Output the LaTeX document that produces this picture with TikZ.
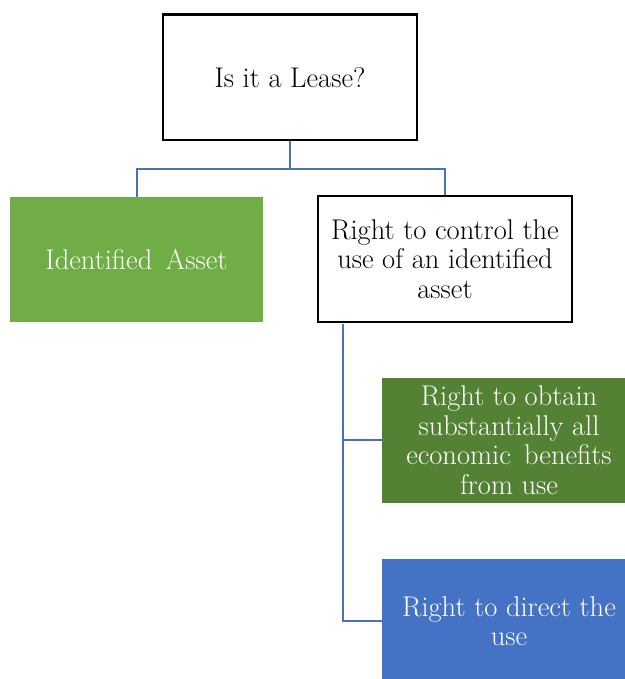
\documentclass[tikz,border=0pt]{standalone}
\definecolor{leafgreen}{HTML}{70AD47}
\definecolor{darkgreen}{HTML}{548235}
\definecolor{boxblue}{HTML}{4472C4}
\definecolor{linkblue}{HTML}{4A72B8}
\begin{document}
\begin{tikzpicture}[x=1pt,y=-1pt,
  every node/.style={font=\fontsize{28.5}{29.5}\selectfont, align=center, inner sep=0pt},
  outlined/.style={draw=black, line width=2.4pt, fill=white,
    minimum width=253.6pt, minimum height=125.6pt},
  solidbox/.style={draw=none, text=white, minimum width=#1, minimum height=125pt},
  link/.style={draw=linkblue, line width=2pt}]
  \useasboundingbox (0,0) rectangle (624,679);

  % boxes
  \node[outlined] (top) at (290,77.5) {Is it a Lease?};
  \node[solidbox=253pt, fill=leafgreen] (ia) at (136.5,259.5) {Identified\, Asset};
  \node[outlined] (rc) at (445,259) {Right to control the\\use of an identified\\asset};
  \node[solidbox=254pt, fill=darkgreen] (rb) at (509,440) {Right to obtain\\substantially all\\economic\, benefits\\from use};
  \node[solidbox=254pt, minimum height=124pt, fill=boxblue] (rd) at (509,621) {Right to direct the\\use};

  % tree connectors
  \coordinate (bar) at (290,169);
  \draw[link] (top.south) -- (bar) -| (ia.north);
  \draw[link] (bar) -| (rc.north);

  \coordinate (spine) at (343,324);
  \draw[link] (spine) |- (rb.west);
  \draw[link] (spine) |- (rd.west);
\end{tikzpicture}
\end{document}
